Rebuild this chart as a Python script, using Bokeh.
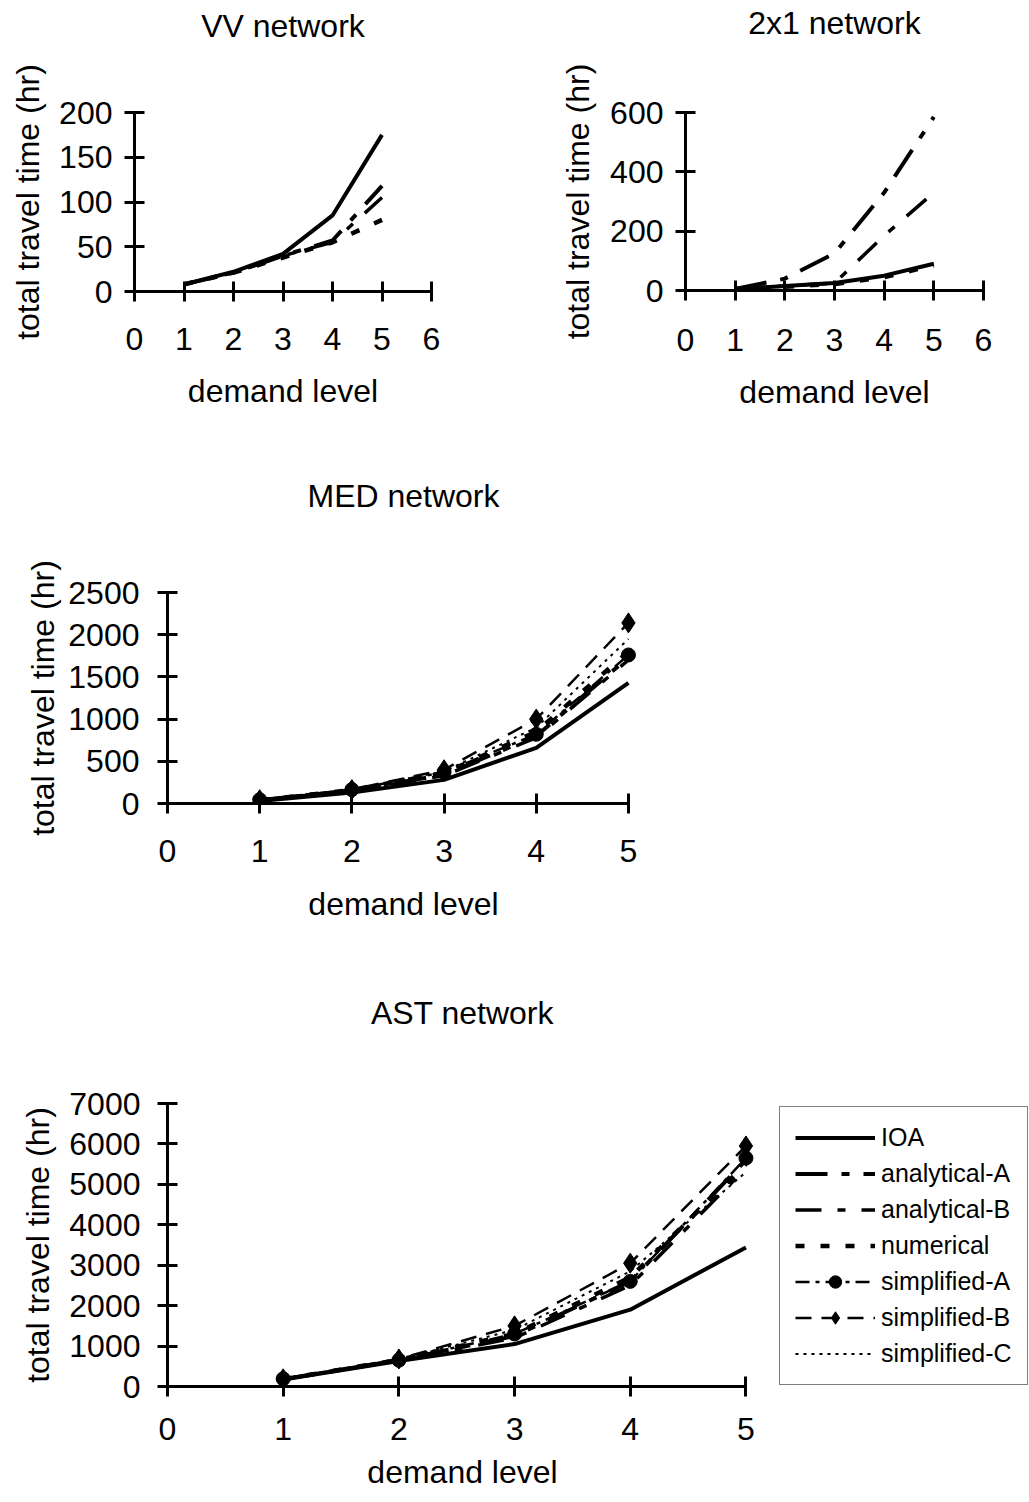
from bokeh.plotting import figure
from bokeh.layouts import column, row
from bokeh.models import Range1d, FixedTicker, Legend, LegendItem, LinearAxis
from bokeh.embed import file_html
from bokeh.resources import INLINE

FONT = "Liberation Sans"

demand = [1, 2, 3, 4, 5]
series_names = ["IOA", "analytical-A", "analytical-B", "numerical",
                "simplified-A", "simplified-B", "simplified-C"]

# VV network
vv_ioa = [8, 22, 42, 85, 175]
vv_analytical_a = [8, 21, 40, 57, 118]
vv_analytical_b = [8, 21, 40, 55, 105]
vv_numerical = [8, 21, 38, 55, 80]

# 2x1 network
n21_ioa = [5, 15, 25, 50, 90]
n21_analytical_a = [5, 40, 125, 330, 585]
n21_analytical_b = [5, 15, 25, 185, 330]
n21_numerical = [5, 13, 22, 45, 85]

# MED network
med_ioa = [30, 130, 280, 660, 1430]
med_analytical_a = [40, 155, 340, 800, 1730]
med_analytical_b = [40, 150, 330, 780, 1700]
med_numerical = [40, 160, 360, 850, 1800]
med_simplified_a = [45, 165, 370, 820, 1760]
med_simplified_b = [45, 165, 400, 1000, 2140]
med_simplified_c = [45, 160, 380, 900, 1950]

# AST network
ast_ioa = [170, 630, 1050, 1900, 3440]
ast_analytical_a = [180, 650, 1250, 2600, 5600]
ast_analytical_b = [180, 640, 1200, 2500, 5400]
ast_numerical = [180, 660, 1300, 2700, 5500]
ast_simplified_a = [190, 650, 1300, 2600, 5650]
ast_simplified_b = [190, 680, 1500, 3050, 5950]
ast_simplified_c = [190, 670, 1400, 2850, 5300]

vv_ticks_y = [0, 50, 100, 150, 200]
n21_ticks_y = [0, 200, 400, 600]
med_ticks_y = [0, 500, 1000, 1500, 2000, 2500]
ast_ticks_y = [0, 1000, 2000, 3000, 4000, 5000, 6000, 7000]
ticks_x6 = [0, 1, 2, 3, 4, 5, 6]
ticks_x5 = [0, 1, 2, 3, 4, 5]

STYLES = {
    "IOA": dict(line_width=4, line_dash="solid"),
    "analytical-A": dict(line_width=4, line_dash="32 14 8 14"),
    "analytical-B": dict(line_width=3.5, line_dash="26 16 8 16"),
    "numerical": dict(line_width=4.5, line_dash="9 16"),
    "simplified-A": dict(line_width=2.5, line_dash="14 6 4 6"),
    "simplified-B": dict(line_width=2.5, line_dash="16 10"),
    "simplified-C": dict(line_width=2, line_dash="3 5"),
}
MARKERS = {"simplified-A": ("circle", 14), "simplified-B": ("diamond", 20)}


def make_fig(fw, fh, left, right, top, bottom, xmax, xbound, ymax,
             xticks, yticks, xl_standoff, xa_standoff, yl_standoff, ya_standoff):
    p = figure(frame_width=fw, frame_height=fh,
               x_range=Range1d(0, xmax), y_range=Range1d(0, ymax),
               output_backend="svg", toolbar_location=None,
               min_border_left=left, min_border_right=right,
               min_border_top=top, min_border_bottom=bottom)
    p.outline_line_color = None
    p.grid.visible = False
    p.background_fill_color = "white"
    p.border_fill_color = "white"
    for ax in (p.xaxis[0], p.yaxis[0]):
        ax.axis_line_width = 3
        ax.axis_line_color = "black"
        ax.major_tick_line_width = 3
        ax.major_tick_line_color = "black"
        ax.major_tick_in = 10
        ax.major_tick_out = 10
        ax.minor_tick_line_color = None
        ax.major_label_text_font = FONT
        ax.major_label_text_font_size = "32px"
        ax.major_label_text_color = "black"
        ax.axis_label_text_font = FONT
        ax.axis_label_text_font_size = "32px"
        ax.axis_label_text_font_style = "normal"
        ax.axis_label_text_color = "black"
    p.xaxis[0].ticker = FixedTicker(ticks=xticks)
    p.yaxis[0].ticker = FixedTicker(ticks=yticks)
    p.xaxis[0].bounds = (0, xbound)
    p.xaxis[0].axis_label = "demand level"
    p.yaxis[0].axis_label = "total travel time (hr)"
    p.xaxis[0].major_label_standoff = xl_standoff
    p.xaxis[0].axis_label_standoff = xa_standoff
    p.yaxis[0].major_label_standoff = yl_standoff
    p.yaxis[0].axis_label_standoff = ya_standoff
    return p


def title_axis(p, title, standoff):
    # chart title, drawn as the label of an empty axis above the frame
    tax = LinearAxis(ticker=FixedTicker(ticks=[]),
                     axis_label=title, axis_label_standoff=standoff,
                     axis_label_text_font=FONT, axis_label_text_font_size="32px",
                     axis_label_text_font_style="normal", axis_label_text_color="black",
                     axis_line_color=None, major_tick_line_color=None,
                     minor_tick_line_color=None, major_tick_in=0, major_tick_out=0,
                     major_label_standoff=0, major_label_text_font_size="0px")
    p.add_layout(tax, "above")


def add_series(p, name, values):
    rs = [p.line(demand, values, color="black", line_cap="butt", **STYLES[name])]
    if name in MARKERS:
        m, s = MARKERS[name]
        rs.append(p.scatter(demand, values, marker=m, size=s, color="black"))
    return rs


# VV
p1 = make_fig(297, 179, 134, 89, 112, 129, 6, 6, 200, ticks_x6, vv_ticks_y, 26, 20, 12, 10)
title_axis(p1, "VV network", 69)
for n, v in zip(series_names, [vv_ioa, vv_analytical_a, vv_analytical_b, vv_numerical]):
    add_series(p1, n, v)

# 2x1
p2 = make_fig(298, 178, 165, 40, 111, 131, 6, 6, 600, ticks_x6, n21_ticks_y, 28, 20, 12, 11)
title_axis(p2, "2x1 network", 72)
for n, v in zip(series_names, [n21_ioa, n21_analytical_a, n21_analytical_b, n21_numerical]):
    add_series(p2, n, v)

# MED
p3 = make_fig(472, 211, 163, 100, 172, 129, 5.12, 5, 2500, ticks_x5, med_ticks_y, 26, 21, 18, 4)
title_axis(p3, "MED network", 79)
for n, v in zip(series_names, [med_ioa, med_analytical_a, med_analytical_b, med_numerical,
                               med_simplified_a, med_simplified_b, med_simplified_c]):
    add_series(p3, n, v)

# AST
p4 = make_fig(590, 283, 167, 270, 171, 114, 5.1, 5, 7000, ticks_x5, ast_ticks_y, 21, 11, 17, 10)
title_axis(p4, "AST network", 73)
items = []
for n, v in zip(series_names, [ast_ioa, ast_analytical_a, ast_analytical_b, ast_numerical,
                               ast_simplified_a, ast_simplified_b, ast_simplified_c]):
    rs = add_series(p4, n, v)
    items.append(LegendItem(label=n, renderers=rs))

legend = Legend(items=items, location=(22, 1), margin=0, padding=15, spacing=5,
                glyph_width=80, glyph_height=31, label_height=31, label_standoff=6,
                label_text_font=FONT, label_text_font_size="25px", label_text_color="black",
                border_line_color="black", border_line_width=1,
                background_fill_color="white", background_fill_alpha=1)
p4.add_layout(legend, "right")

layout = column(row(p1, p2), p3, p4)

with open("out.html", "w") as f:
    f.write(file_html(layout, INLINE))
